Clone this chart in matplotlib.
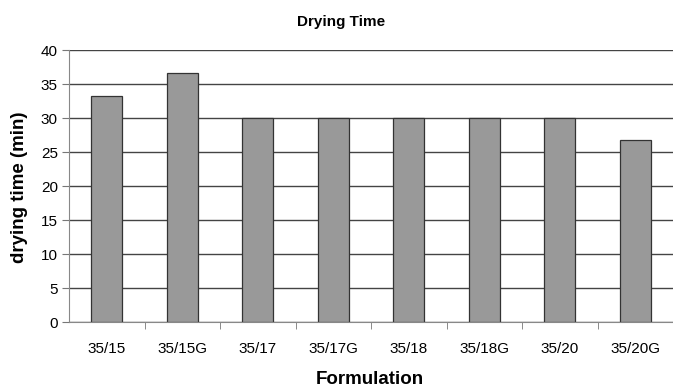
import matplotlib.pyplot as plt
import numpy as np

plt.rcParams['font.family'] = ['Liberation Sans', 'DejaVu Sans']

formulations = ['35/15', '35/15G', '35/17', '35/17G', '35/18', '35/18G', '35/20', '35/20G']
drying_time = [33.3, 36.7, 30, 30, 30, 30, 30, 26.8]
y_ticks = [0, 5, 10, 15, 20, 25, 30, 35, 40]

W, H = 673, 388
fig = plt.figure(figsize=(W/100, H/100), dpi=100)
ax = fig.add_axes([69/W, (H-322.3)/H, (673-69)/W, 272/H])

x = np.arange(len(formulations))
ax.bar(x, drying_time, width=0.41, color='#999999', edgecolor='#333333', linewidth=0.9, zorder=3)

ax.set_xlim(-0.5, len(formulations) - 0.5)
ax.set_ylim(0, 40)
ax.set_yticks(y_ticks)
ax.set_xticks(x)
ax.set_xticklabels(formulations, fontsize=11)
ax.tick_params(axis='x', length=0, pad=14)
ax.set_xticks(np.arange(len(formulations)) + 0.5, minor=True)
ax.tick_params(axis='x', which='minor', length=5, color='#777777', direction='out')
ax.tick_params(axis='y', labelsize=11, length=5, color='#777777', pad=3)

ax.grid(axis='y', color='#444444', linewidth=1.0, zorder=0)
for side in ['top', 'right']:
    ax.spines[side].set_visible(False)
ax.spines['left'].set_color('#888888')
ax.spines['bottom'].set_color('#888888')
ax.spines['bottom'].set_zorder(4)

fig.text(341/W, 1 - 22/H, 'Drying Time', ha='center', va='center', fontsize=11, fontweight='bold')
fig.text(20/W, 1 - 187/H, 'drying time (min)', ha='center', va='center', rotation=90,
         fontsize=13.5, fontweight='bold')
fig.text(370/W, 1 - 380/H, 'Formulation', ha='center', va='center', fontsize=13.5, fontweight='bold')

fig.savefig('out.png', dpi=100)
